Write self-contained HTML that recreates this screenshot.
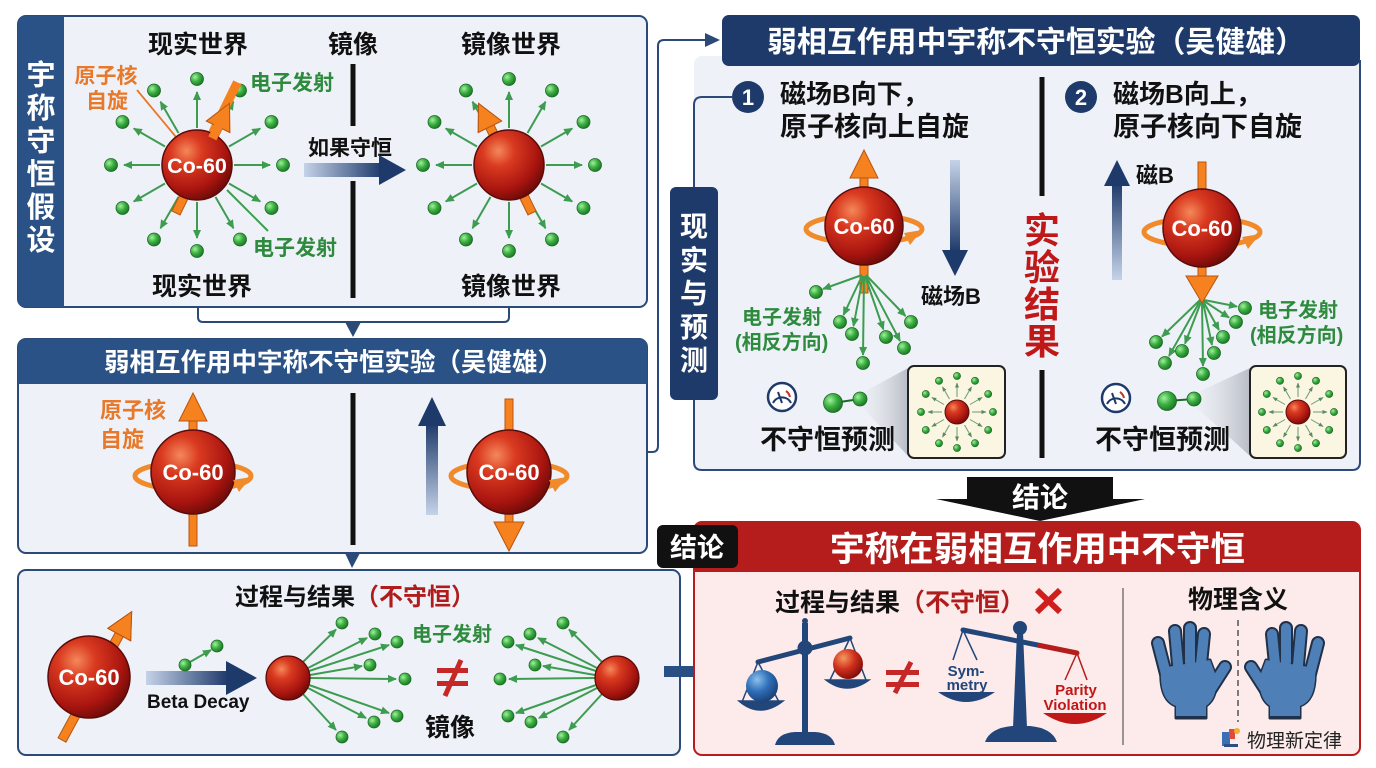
<!DOCTYPE html>
<html><head><meta charset="utf-8"><style>
html,body{margin:0;padding:0;background:#fff;width:1376px;height:768px;overflow:hidden}
svg{display:block;font-family:"Liberation Sans","Noto Sans CJK SC",sans-serif}
.b{font-weight:bold}
.gl line{marker-end:url(#ga)}
.gs line{marker-end:url(#gs)}
</style></head><body>
<svg width="1376" height="768" viewBox="0 0 1376 768" xmlns="http://www.w3.org/2000/svg">
<defs>
<radialGradient id="atom" cx="35%" cy="30%" r="75%">
<stop offset="0" stop-color="#f4885a"/><stop offset="0.3" stop-color="#d93a20"/><stop offset="0.75" stop-color="#a8140f"/><stop offset="1" stop-color="#6a0b08"/>
</radialGradient>
<radialGradient id="gdot" cx="35%" cy="35%" r="70%">
<stop offset="0" stop-color="#a4f09e"/><stop offset="0.5" stop-color="#3cb043"/><stop offset="1" stop-color="#1b7424"/>
</radialGradient>
<radialGradient id="bball" cx="35%" cy="30%" r="75%">
<stop offset="0" stop-color="#8cc0ee"/><stop offset="0.5" stop-color="#2f6fb8"/><stop offset="1" stop-color="#173f73"/>
</radialGradient>
<radialGradient id="rball" cx="35%" cy="30%" r="75%">
<stop offset="0" stop-color="#f49a60"/><stop offset="0.5" stop-color="#d0301c"/><stop offset="1" stop-color="#7a0c08"/>
</radialGradient>
<linearGradient id="bh" x1="0" y1="0" x2="1" y2="0"><stop offset="0" stop-color="#c5d3e8"/><stop offset="1" stop-color="#1e3a6b"/></linearGradient>
<linearGradient id="bvd" x1="0" y1="0" x2="0" y2="1"><stop offset="0" stop-color="#c5d3e8"/><stop offset="1" stop-color="#1e3a6b"/></linearGradient>
<linearGradient id="bvu" x1="0" y1="1" x2="0" y2="0"><stop offset="0" stop-color="#c5d3e8"/><stop offset="1" stop-color="#1e3a6b"/></linearGradient>
<linearGradient id="shd" x1="0" y1="0" x2="1" y2="0"><stop offset="0" stop-color="#e6e8ec" stop-opacity="0.3"/><stop offset="1" stop-color="#b8bcc4"/></linearGradient>
<marker id="ga" markerWidth="9" markerHeight="8" refX="8" refY="4" orient="auto" markerUnits="userSpaceOnUse"><path d="M0,0 L9,4 L0,8 Z" fill="#3d9c50"/></marker>
<marker id="gs" markerWidth="5" markerHeight="4" refX="4.5" refY="2" orient="auto" markerUnits="userSpaceOnUse"><path d="M0,0 L5,2 L0,4 Z" fill="#5a8a60"/></marker>
<g id="burst">
<g class="gl" stroke="#3d9c50" stroke-width="2">
<line x1="37" y1="0" x2="73" y2="0"/><line x1="32" y1="18.5" x2="63.2" y2="36.5"/><line x1="18.5" y1="32" x2="36.5" y2="63.2"/><line x1="0" y1="37" x2="0" y2="73"/>
<line x1="-18.5" y1="32" x2="-36.5" y2="63.2"/><line x1="-32" y1="18.5" x2="-63.2" y2="36.5"/><line x1="-37" y1="0" x2="-73" y2="0"/><line x1="-32" y1="-18.5" x2="-63.2" y2="-36.5"/>
<line x1="-18.5" y1="-32" x2="-36.5" y2="-63.2"/><line x1="0" y1="-37" x2="0" y2="-73"/><line x1="18.5" y1="-32" x2="36.5" y2="-63.2"/><line x1="32" y1="-18.5" x2="63.2" y2="-36.5"/>
</g>
<g fill="url(#gdot)" stroke="#1d6a26" stroke-width="0.8">
<circle cx="86" cy="0" r="6.5"/><circle cx="74.5" cy="43" r="6.5"/><circle cx="43" cy="74.5" r="6.5"/><circle cx="0" cy="86" r="6.5"/>
<circle cx="-43" cy="74.5" r="6.5"/><circle cx="-74.5" cy="43" r="6.5"/><circle cx="-86" cy="0" r="6.5"/><circle cx="-74.5" cy="-43" r="6.5"/>
<circle cx="-43" cy="-74.5" r="6.5"/><circle cx="0" cy="-86" r="6.5"/><circle cx="43" cy="-74.5" r="6.5"/><circle cx="74.5" cy="-43" r="6.5"/>
</g>
</g>
<g id="sburst">
<g class="gs" stroke="#6a9a70" stroke-width="1">
<line x1="15" y1="0" x2="29" y2="0"/><line x1="13" y1="7.5" x2="25.1" y2="14.5"/><line x1="7.5" y1="13" x2="14.5" y2="25.1"/><line x1="0" y1="15" x2="0" y2="29"/>
<line x1="-7.5" y1="13" x2="-14.5" y2="25.1"/><line x1="-13" y1="7.5" x2="-25.1" y2="14.5"/><line x1="-15" y1="0" x2="-29" y2="0"/><line x1="-13" y1="-7.5" x2="-25.1" y2="-14.5"/>
<line x1="-7.5" y1="-13" x2="-14.5" y2="-25.1"/><line x1="0" y1="-15" x2="0" y2="-29"/><line x1="7.5" y1="-13" x2="14.5" y2="-25.1"/><line x1="13" y1="-7.5" x2="25.1" y2="-14.5"/>
</g>
<g fill="url(#gdot)" stroke="#1d6a26" stroke-width="0.6">
<circle cx="36" cy="0" r="3.6"/><circle cx="31.2" cy="18" r="3.6"/><circle cx="18" cy="31.2" r="3.6"/><circle cx="0" cy="36" r="3.6"/>
<circle cx="-18" cy="31.2" r="3.6"/><circle cx="-31.2" cy="18" r="3.6"/><circle cx="-36" cy="0" r="3.6"/><circle cx="-31.2" cy="-18" r="3.6"/>
<circle cx="-18" cy="-31.2" r="3.6"/><circle cx="0" cy="-36" r="3.6"/><circle cx="18" cy="-31.2" r="3.6"/><circle cx="31.2" cy="-18" r="3.6"/>
</g>
<circle cx="0" cy="0" r="12" fill="url(#atom)" stroke="#5a0c0a" stroke-width="1"/>
</g>
</defs>

<!-- ================= PANEL 1 ================= -->
<rect x="18" y="16" width="629" height="291" rx="8" fill="#eef2f8" stroke="#2b4a78" stroke-width="2"/>
<path d="M26,16 H64 V307 H26 Q18,307 18,299 V24 Q18,16 26,16 Z" fill="#2a5286"/>
<g class="b" fill="#fff" font-size="29" text-anchor="middle">
<text x="41" y="85">宇</text><text x="41" y="118">称</text><text x="41" y="151">守</text><text x="41" y="184">恒</text><text x="41" y="217">假</text><text x="41" y="250">设</text>
</g>
<g class="b" fill="#111" font-size="25" text-anchor="middle">
<text x="198" y="53">现实世界</text><text x="353" y="53">镜像</text><text x="511" y="53">镜像世界</text>
<text x="202" y="295">现实世界</text><text x="511" y="295">镜像世界</text>
</g>
<line x1="353" y1="64" x2="353" y2="126" stroke="#111" stroke-width="5"/>
<line x1="353" y1="181" x2="353" y2="298" stroke="#111" stroke-width="5"/>
<text x="350" y="155" class="b" font-size="21" fill="#111" text-anchor="middle">如果守恒</text>
<rect x="304" y="163" width="78" height="14" fill="url(#bh)"/>
<polygon points="379,155 406,170 379,185" fill="#1e3a6b"/>

<!-- atom 1 -->
<line x1="137" y1="90" x2="176" y2="137" stroke="#e8782a" stroke-width="1.8"/>
<line x1="227" y1="190" x2="268" y2="231" stroke="#3d9c50" stroke-width="2"/>
<use href="#burst" transform="translate(197,165)"/>
<g transform="translate(176,213) rotate(26)" fill="#f5821f" stroke="#b9540f" stroke-width="1"><rect x="-4.5" y="-98" width="9" height="98"/><polygon points="-13,-96 0,-122 13,-96"/></g>
<circle cx="197" cy="165" r="35" fill="url(#atom)" stroke="#5a0c0a" stroke-width="1.5"/>
<g transform="translate(197,165) rotate(26)"><rect x="-4.5" y="-92" width="9" height="56" fill="#f5821f"/></g>
<g transform="translate(176,213) rotate(26)" fill="#f5821f" stroke="#b9540f" stroke-width="1"><polygon points="-13,-96 0,-122 13,-96"/><rect x="-4.5" y="-97" width="9" height="14" stroke="none"/></g>
<text x="197" y="173" class="b" font-size="21.5" fill="#fff" text-anchor="middle">Co-60</text>
<g class="b" font-size="21" fill="#e8782a" text-anchor="middle"><text x="106" y="83">原子核</text><text x="107" y="108">自旋</text></g>
<g class="b" font-size="21" fill="#2e8b3e"><text x="250" y="90">电子发射</text><text x="253" y="255">电子发射</text></g>

<!-- atom mirror -->
<use href="#burst" transform="translate(509,165)"/>
<g transform="translate(532,213) rotate(-26)" fill="#f5821f" stroke="#b9540f" stroke-width="1"><rect x="-4.5" y="-98" width="9" height="98"/><polygon points="-13,-96 0,-122 13,-96"/></g>
<circle cx="509" cy="165" r="35" fill="url(#atom)" stroke="#5a0c0a" stroke-width="1.5"/>
<g transform="translate(532,213) rotate(-26)" fill="#f5821f" stroke="#b9540f" stroke-width="1"><polygon points="-13,-96 0,-122 13,-96"/></g>

<!-- bracket connector -->
<path d="M198,308 V317 Q198,322 203,322 H504 Q509,322 509,317 V308" fill="none" stroke="#2b4a78" stroke-width="2"/>
<polygon points="345,322 361,322 353,337" fill="#2b4a78"/>

<!-- ================= PANEL 2 ================= -->
<rect x="18" y="339" width="629" height="214" rx="8" fill="#eef2f8" stroke="#2b4a78" stroke-width="2"/>
<path d="M26,339 H639 Q647,339 647,347 V384 H18 V347 Q18,339 26,339 Z" fill="#2a5286"/>
<text x="104" y="371" class="b" font-size="25.5" fill="#fff" textLength="459" lengthAdjust="spacingAndGlyphs">弱相互作用中宇称不守恒实验（吴健雄）</text>
<g class="b" font-size="22" fill="#e8782a"><text x="100" y="418">原子核</text><text x="100" y="447">自旋</text></g>
<!-- left atom -->
<ellipse cx="193" cy="476" rx="58" ry="14" fill="none" stroke="#f08a2a" stroke-width="5"/>
<rect x="189" y="418" width="8" height="128" fill="#f5821f" stroke="#b9540f" stroke-width="1"/>
<polygon points="179,421 193,393 207,421" fill="#f5821f" stroke="#b9540f" stroke-width="1"/>
<circle cx="193" cy="472" r="42" fill="url(#atom)" stroke="#5a0c0a" stroke-width="1.5"/>
<polygon points="251,477 239,492 233,480" fill="#f08a2a"/>
<text x="193" y="480" class="b" font-size="22" fill="#fff" text-anchor="middle">Co-60</text>
<line x1="353" y1="393" x2="353" y2="545" stroke="#111" stroke-width="5"/>
<rect x="426" y="423" width="12" height="92" fill="url(#bvu)"/>
<polygon points="418,426 432,397 446,426" fill="#1e3a6b"/>
<!-- right atom -->
<ellipse cx="509" cy="476" rx="58" ry="14" fill="none" stroke="#f08a2a" stroke-width="5"/>
<rect x="505" y="399" width="8" height="126" fill="#f5821f" stroke="#b9540f" stroke-width="1"/>
<circle cx="509" cy="472" r="42" fill="url(#atom)" stroke="#5a0c0a" stroke-width="1.5"/>
<polygon points="494,522 509,551 524,522" fill="#f5821f" stroke="#b9540f" stroke-width="1"/>
<polygon points="567,477 555,492 549,480" fill="#f08a2a"/>
<text x="509" y="480" class="b" font-size="22" fill="#fff" text-anchor="middle">Co-60</text>
<polygon points="345,553 360,553 352,568" fill="#2b4a78"/>

<!-- connector to right panel -->
<path d="M647,452 H652 Q658,452 658,446 V46 Q658,40 664,40 H708" fill="none" stroke="#2b4a78" stroke-width="2"/>
<polygon points="705,33 720,40 705,47" fill="#2b4a78"/>

<!-- ================= PANEL 3 ================= -->
<rect x="18" y="570" width="662" height="185" rx="8" fill="#eef2f8" stroke="#2b4a78" stroke-width="2"/>
<text x="235" y="605" class="b" font-size="24" fill="#111">过程与结果<tspan fill="#b01c1c">（不守恒）</tspan></text>
<g transform="translate(62,740) rotate(28.5)" fill="#f5821f" stroke="#b9540f" stroke-width="1"><rect x="-4.5" y="-122" width="9" height="122"/><polygon points="-13,-120 0,-146 13,-120"/></g>
<circle cx="89" cy="677" r="41" fill="url(#atom)" stroke="#5a0c0a" stroke-width="1.5"/>
<g transform="translate(62,740) rotate(28.5)" fill="#f5821f" stroke="#b9540f" stroke-width="1"><polygon points="-13,-120 0,-146 13,-120"/></g>
<text x="89" y="685" class="b" font-size="22" fill="#fff" text-anchor="middle">Co-60</text>
<rect x="146" y="671" width="82" height="14" fill="url(#bh)"/>
<polygon points="226,661 257,678 226,695" fill="#1e3a6b"/>
<text x="147" y="708" class="b" font-size="19" fill="#111">Beta Decay</text>
<line x1="190" y1="662" x2="211" y2="650" stroke="#3d9c50" stroke-width="2" marker-end="url(#ga)"/>
<g fill="url(#gdot)" stroke="#1d6a26" stroke-width="0.8"><circle cx="185" cy="665" r="6"/><circle cx="217" cy="646" r="6"/></g>

<g class="gl" stroke="#3d9c50" stroke-width="2">
<line x1="303" y1="662" x2="336" y2="629.5"/><line x1="308" y1="668" x2="367" y2="638"/><line x1="309" y1="671" x2="389" y2="645"/><line x1="310" y1="675" x2="362" y2="666"/>
<line x1="310" y1="678" x2="396" y2="679"/><line x1="309" y1="685" x2="389" y2="713"/><line x1="308" y1="688" x2="366" y2="718"/><line x1="303" y1="694" x2="336" y2="730"/>
<line x1="602" y1="662" x2="569" y2="629.5"/><line x1="597" y1="668" x2="538" y2="638"/><line x1="596" y1="671" x2="516" y2="645"/><line x1="595" y1="675" x2="543" y2="666"/>
<line x1="595" y1="678" x2="509" y2="679"/><line x1="596" y1="685" x2="516" y2="713"/><line x1="597" y1="688" x2="539" y2="718"/><line x1="602" y1="694" x2="569" y2="730"/>
</g>
<g fill="url(#gdot)" stroke="#1d6a26" stroke-width="0.8">
<circle cx="342" cy="623" r="6"/><circle cx="375" cy="634" r="6"/><circle cx="397" cy="642" r="6"/><circle cx="370" cy="665" r="6"/>
<circle cx="405" cy="679" r="6"/><circle cx="397" cy="716" r="6"/><circle cx="374" cy="722" r="6"/><circle cx="342" cy="737" r="6"/>
<circle cx="563" cy="623" r="6"/><circle cx="530" cy="634" r="6"/><circle cx="508" cy="642" r="6"/><circle cx="535" cy="665" r="6"/>
<circle cx="500" cy="679" r="6"/><circle cx="508" cy="716" r="6"/><circle cx="531" cy="722" r="6"/><circle cx="563" cy="737" r="6"/>
</g>
<circle cx="288" cy="678" r="22" fill="url(#atom)" stroke="#5a0c0a" stroke-width="1.2"/>
<circle cx="617" cy="678" r="22" fill="url(#atom)" stroke="#5a0c0a" stroke-width="1.2"/>
<text x="412" y="641" class="b" font-size="20" fill="#2e8b3e">电子发射</text>
<g fill="#c62828"><rect x="437" y="668" width="31" height="5"/><rect x="437" y="681" width="31" height="5"/></g>
<line x1="445" y1="696" x2="461" y2="660" stroke="#c62828" stroke-width="5"/>
<text x="425" y="736" class="b" font-size="25" fill="#111">镜像</text>
<rect x="664" y="666" width="38" height="11" fill="#2a4f85"/>
<polygon points="700,656 721,671.5 700,687" fill="#2a4f85"/>

<!-- ================= RIGHT EXPERIMENT PANEL ================= -->
<rect x="694" y="56" width="666" height="414" rx="8" fill="#eef2f8"/>
<path d="M732,97 H702 Q694,97 694,105 V462 Q694,470 702,470 H1352 Q1360,470 1360,462 V60" fill="none" stroke="#2b4a78" stroke-width="2"/>
<rect x="722" y="15" width="638" height="51" rx="7" fill="#1e3a6b"/>
<text x="767" y="52" class="b" font-size="29.5" fill="#fff" textLength="538" lengthAdjust="spacingAndGlyphs">弱相互作用中宇称不守恒实验（吴健雄）</text>
<rect x="670" y="187" width="48" height="213" rx="6" fill="#1e3a6b"/>
<g class="b" fill="#fff" font-size="28" text-anchor="middle">
<text x="694" y="236">现</text><text x="694" y="270">实</text><text x="694" y="303">与</text><text x="694" y="337">预</text><text x="694" y="370">测</text>
</g>
<circle cx="748" cy="97" r="16" fill="#1e3a6b"/>
<text x="748" y="105" class="b" font-size="22" fill="#fff" text-anchor="middle">1</text>
<text x="780" y="103" class="b" font-size="26" fill="#111">磁场B向下，</text>
<text x="780" y="136" class="b" font-size="27" fill="#111">原子核向上自旋</text>
<circle cx="1081" cy="97" r="16" fill="#1e3a6b"/>
<text x="1081" y="105" class="b" font-size="22" fill="#fff" text-anchor="middle">2</text>
<text x="1113" y="103" class="b" font-size="26" fill="#111">磁场B向上，</text>
<text x="1113" y="136" class="b" font-size="27" fill="#111">原子核向下自旋</text>
<line x1="1042" y1="77" x2="1042" y2="196" stroke="#111" stroke-width="5"/>
<line x1="1042" y1="370" x2="1042" y2="458" stroke="#111" stroke-width="5"/>
<g class="b" fill="#c01818" font-size="36" text-anchor="middle">
<text x="1042" y="243">实</text><text x="1042" y="280">验</text><text x="1042" y="317">结</text><text x="1042" y="354">果</text>
</g>

<!-- exp 1 -->
<ellipse cx="864" cy="229" rx="58" ry="14" fill="none" stroke="#f08a2a" stroke-width="5"/>
<rect x="860" y="175" width="8" height="118" fill="#f5821f" stroke="#b9540f" stroke-width="1"/>
<polygon points="850,178 864,150 878,178" fill="#f5821f" stroke="#b9540f" stroke-width="1"/>
<g class="gl" stroke="#3d9c50" stroke-width="2">
<line x1="862" y1="275" x2="823" y2="289"/><line x1="862" y1="276" x2="843.5" y2="315"/><line x1="863" y1="276" x2="853.5" y2="326"/><line x1="864" y1="276" x2="863" y2="355"/>
<line x1="865" y1="276" x2="883.4" y2="329.4"/><line x1="866" y1="276" x2="900" y2="341"/><line x1="866" y1="275" x2="905.5" y2="316"/>
</g>
<g fill="url(#gdot)" stroke="#1d6a26" stroke-width="0.8">
<circle cx="816" cy="292" r="6.5"/><circle cx="840" cy="322" r="6.5"/><circle cx="852" cy="334" r="6.5"/><circle cx="863" cy="363" r="6.5"/>
<circle cx="886" cy="337" r="6.5"/><circle cx="904" cy="348" r="6.5"/><circle cx="911" cy="322" r="6.5"/>
</g>
<circle cx="864" cy="226" r="39" fill="url(#atom)" stroke="#5a0c0a" stroke-width="1.5"/>
<polygon points="922,230 910,245 904,233" fill="#f08a2a"/>
<text x="864" y="234" class="b" font-size="22" fill="#fff" text-anchor="middle">Co-60</text>
<rect x="950" y="160" width="10" height="92" fill="url(#bvd)"/>
<polygon points="942,250 968,250 955,276" fill="#1e3a6b"/>
<text x="921" y="304" class="b" font-size="22" fill="#111">磁场B</text>
<g class="b" font-size="20" fill="#2e8b3e"><text x="742" y="324">电子发射</text><text x="735" y="349">(相反方向)</text></g>
<circle cx="782" cy="397" r="14" fill="#fff" stroke="#1e3a6b" stroke-width="2.5"/>
<path d="M773,403 A10,10 0 0 1 791,403" fill="none" stroke="#1e3a6b" stroke-width="2"/>
<line x1="782" y1="403" x2="778" y2="392" stroke="#1e3a6b" stroke-width="2"/>
<path d="M786,391 A10,10 0 0 1 790,397" fill="none" stroke="#c0392b" stroke-width="2"/>
<polygon points="862,393 908,368 908,456 862,407" fill="url(#shd)"/>
<line x1="833" y1="403" x2="860" y2="399" stroke="#1d6a26" stroke-width="2"/>
<circle cx="833" cy="403" r="9.5" fill="url(#gdot)" stroke="#1d6a26" stroke-width="0.8"/>
<circle cx="860" cy="399" r="7" fill="url(#gdot)" stroke="#1d6a26" stroke-width="0.8"/>
<text x="760" y="449" class="b" font-size="27" fill="#111">不守恒预测</text>
<rect x="908" y="366" width="97" height="92" rx="6" fill="#fbf6e2" stroke="#222" stroke-width="2"/>
<use href="#sburst" transform="translate(957,412)"/>

<!-- exp 2 -->
<rect x="1112" y="182" width="10" height="98" fill="url(#bvu)"/>
<polygon points="1104,186 1117,160 1130,186" fill="#1e3a6b"/>
<text x="1136" y="183" class="b" font-size="22" fill="#111">磁B</text>
<ellipse cx="1202" cy="232" rx="58" ry="14" fill="none" stroke="#f08a2a" stroke-width="5"/>
<rect x="1198" y="162" width="8" height="117" fill="#f5821f" stroke="#b9540f" stroke-width="1"/>
<g class="gl" stroke="#3d9c50" stroke-width="2">
<line x1="1204" y1="300" x2="1237" y2="306.5"/><line x1="1204" y1="301" x2="1229" y2="317.6"/><line x1="1203" y1="301" x2="1219" y2="330"/><line x1="1203" y1="302" x2="1212" y2="345"/>
<line x1="1202" y1="302" x2="1203" y2="366"/><line x1="1201" y1="302" x2="1185" y2="343.6"/><line x1="1200" y1="301" x2="1169" y2="356"/><line x1="1200" y1="300" x2="1162" y2="336.6"/>
</g>
<g fill="url(#gdot)" stroke="#1d6a26" stroke-width="0.8">
<circle cx="1245" cy="308" r="6.5"/><circle cx="1236" cy="322" r="6.5"/><circle cx="1223" cy="337" r="6.5"/><circle cx="1214" cy="353" r="6.5"/>
<circle cx="1203" cy="374" r="6.5"/><circle cx="1182" cy="351" r="6.5"/><circle cx="1165" cy="363" r="6.5"/><circle cx="1156" cy="342" r="6.5"/>
</g>
<circle cx="1202" cy="228" r="39" fill="url(#atom)" stroke="#5a0c0a" stroke-width="1.5"/>
<polygon points="1260,234 1248,249 1242,237" fill="#f08a2a"/>
<polygon points="1186,276 1218,276 1202,303" fill="#f5821f" stroke="#b9540f" stroke-width="1"/>
<text x="1202" y="236" class="b" font-size="22" fill="#fff" text-anchor="middle">Co-60</text>
<g class="b" font-size="20" fill="#2e8b3e"><text x="1258" y="317">电子发射</text><text x="1250" y="342">(相反方向)</text></g>
<circle cx="1116" cy="398" r="14" fill="#fff" stroke="#1e3a6b" stroke-width="2.5"/>
<path d="M1107,404 A10,10 0 0 1 1125,404" fill="none" stroke="#1e3a6b" stroke-width="2"/>
<line x1="1116" y1="404" x2="1112" y2="393" stroke="#1e3a6b" stroke-width="2"/>
<path d="M1120,392 A10,10 0 0 1 1124,398" fill="none" stroke="#c0392b" stroke-width="2"/>
<polygon points="1196,393 1250,368 1250,456 1196,407" fill="url(#shd)"/>
<line x1="1167" y1="401" x2="1194" y2="399" stroke="#1d6a26" stroke-width="2"/>
<circle cx="1167" cy="401" r="9.5" fill="url(#gdot)" stroke="#1d6a26" stroke-width="0.8"/>
<circle cx="1194" cy="399" r="7" fill="url(#gdot)" stroke="#1d6a26" stroke-width="0.8"/>
<text x="1095" y="449" class="b" font-size="27" fill="#111">不守恒预测</text>
<rect x="1250" y="366" width="96" height="92" rx="6" fill="#fbf6e2" stroke="#222" stroke-width="2"/>
<use href="#sburst" transform="translate(1298,412)"/>

<!-- 结论 arrow -->
<path d="M967,477 H1113 V499 H1145 L1040,521 L936,499 H967 Z" fill="#111"/>
<text x="1040" y="507" class="b" font-size="28" fill="#fff" text-anchor="middle">结论</text>

<!-- ================= RED PANEL ================= -->
<rect x="694" y="522" width="666" height="233" rx="8" fill="#fcebea" stroke="#b71c1c" stroke-width="2"/>
<path d="M702,522 H1352 Q1360,522 1360,530 V572 H694 V530 Q694,522 702,522 Z" fill="#b51c1c"/>
<text x="830" y="561" class="b" font-size="34.5" fill="#fff" textLength="415" lengthAdjust="spacingAndGlyphs">宇称在弱相互作用中不守恒</text>
<rect x="657" y="525" width="81" height="43" rx="6" fill="#111"/>
<text x="697" y="557" class="b" font-size="27" fill="#fff" text-anchor="middle">结论</text>

<text x="775" y="611" class="b" font-size="25" fill="#111">过程与结果<tspan fill="#b01c1c">（不守恒）</tspan></text>
<g stroke="#d01e1e" stroke-width="6"><line x1="1037" y1="590" x2="1060" y2="612"/><line x1="1060" y1="590" x2="1037" y2="612"/></g>

<!-- left scale -->
<g fill="#23467a" stroke="#23467a">
<path d="M775,745 Q778,733 795,732 H815 Q832,733 835,745 Z" stroke="none"/>
<rect x="802" y="623" width="6" height="112" stroke="none"/>
<circle cx="805" cy="621" r="3" stroke="none"/>
<line x1="758" y1="662" x2="850" y2="638" stroke-width="5" stroke-linecap="round"/>
<circle cx="805" cy="648" r="7.5" stroke="none"/>
<g fill="none" stroke-width="1.5"><line x1="758" y1="662" x2="742" y2="702"/><line x1="758" y1="662" x2="779" y2="702"/><line x1="850" y1="638" x2="830" y2="680"/><line x1="850" y1="638" x2="866" y2="680"/></g>
<path d="M739,701 Q760,719 783,701 Z" stroke-width="1.5"/>
<path d="M826,680 Q847,696 869,680 Z" stroke-width="1.5"/>
</g>
<circle cx="762" cy="686" r="16" fill="url(#bball)"/>
<circle cx="848" cy="664" r="15" fill="url(#rball)"/>
<g fill="#c62828"><rect x="886" y="670" width="33" height="5"/><rect x="886" y="682" width="33" height="5"/></g>
<line x1="895" y1="693" x2="911" y2="662" stroke="#c62828" stroke-width="5"/>

<!-- right scale -->
<path d="M985,742 Q990,728 1012,726 H1030 Q1052,728 1057,742 Z" fill="#23467a"/>
<path d="M1017,632 L1023,632 L1027,728 L1013,728 Z" fill="#23467a"/>
<line x1="963" y1="630" x2="1040" y2="645.5" stroke="#23467a" stroke-width="5" stroke-linecap="round"/>
<line x1="1040" y1="645.5" x2="1077" y2="653" stroke="#b51c1c" stroke-width="5" stroke-linecap="round"/>
<circle cx="1020" cy="628" r="7" fill="#23467a"/>
<g stroke="#23467a" stroke-width="1.5"><line x1="963" y1="630" x2="953" y2="660"/><line x1="963" y1="630" x2="977" y2="660"/></g>
<g stroke="#b51c1c" stroke-width="1.5"><line x1="1077" y1="653" x2="1065" y2="680"/><line x1="1077" y1="653" x2="1087" y2="680"/></g>
<path d="M938,692 Q966,712 995,692 Z" fill="#23467a"/>
<path d="M1043,713 Q1075,735 1107,713 Z" fill="#c01818"/>
<g class="b" font-size="15" text-anchor="middle" fill="#23467a"><text x="966" y="676">Sym-</text><text x="967" y="690">metry</text></g>
<g class="b" font-size="15" text-anchor="middle" fill="#c01818"><text x="1076" y="695">Parity</text><text x="1075" y="710">Violation</text></g>

<line x1="1123" y1="588" x2="1123" y2="745" stroke="#777" stroke-width="1.5"/>
<text x="1238" y="608" class="b" font-size="25" fill="#111" text-anchor="middle">物理含义</text>
<line x1="1238" y1="620" x2="1238" y2="722" stroke="#555" stroke-width="1.5" stroke-dasharray="6,4"/>

<!-- hands -->
<g id="hand">
<g stroke="#1f3047" stroke-linecap="round" fill="#1f3047">
<line x1="1166" y1="674" x2="1158" y2="643" stroke-width="14"/>
<line x1="1178" y1="665" x2="1175" y2="631" stroke-width="14"/>
<line x1="1190" y1="662" x2="1190" y2="628" stroke-width="14"/>
<line x1="1201" y1="664" x2="1204" y2="634" stroke-width="14"/>
<line x1="1209" y1="692" x2="1225" y2="667" stroke-width="14"/>
<path d="M1161,668 Q1159,700 1176,706 L1176,718 L1206,718 L1206,706 Q1218,698 1216,676 L1210,660 Z" stroke-width="3" stroke-linejoin="round"/>
</g>
<g stroke="#4f7fb7" stroke-linecap="round" fill="#4f7fb7">
<line x1="1166" y1="674" x2="1158" y2="643" stroke-width="10"/>
<line x1="1178" y1="665" x2="1175" y2="631" stroke-width="10"/>
<line x1="1190" y1="662" x2="1190" y2="628" stroke-width="10"/>
<line x1="1201" y1="664" x2="1204" y2="634" stroke-width="10"/>
<line x1="1209" y1="692" x2="1225" y2="667" stroke-width="10"/>
<path d="M1161,668 Q1159,700 1176,706 L1176,716 L1206,716 L1206,706 Q1218,698 1216,676 L1210,660 Z" stroke="none"/>
</g>
</g>
<use href="#hand" transform="translate(2476,0) scale(-1,1)"/>

<!-- logo -->
<rect x="1222" y="732" width="8" height="14" fill="#3b6fb5"/>
<rect x="1229" y="729" width="6" height="10" fill="#e04a3a"/>
<circle cx="1237" cy="731" r="3" fill="#f0b030"/>
<rect x="1224" y="744" width="14" height="3" fill="#2a4f85"/>
<text x="1247" y="747" font-size="19" fill="#222">物理新定律</text>
</svg>
</body></html>
